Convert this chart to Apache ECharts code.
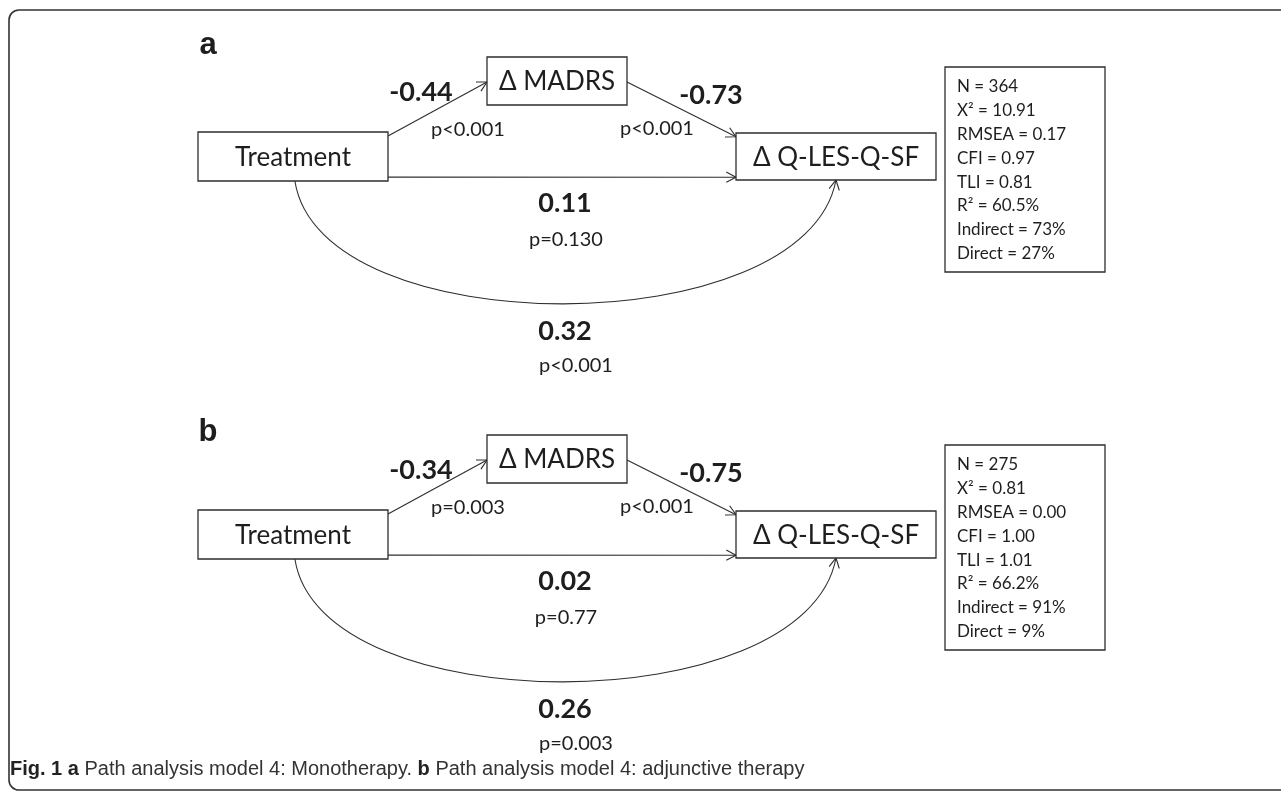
<!DOCTYPE html>
<html>
<head>
<meta charset="utf-8">
<script src="https://cdn.jsdelivr.net/npm/echarts@6/dist/echarts.min.js"></script>
<style>
  html, body { margin: 0; padding: 0; background: #fff; }
  #main { width: 1281px; height: 799px; }
</style>
</head>
<body>
<div id="main"></div>
<script>
// model variables and paths (from -> to)
var nodeNames = ['Treatment', 'Δ MADRS', 'Δ Q-LES-Q-SF']
var pathFrom = [0, 1, 0, 0]
var pathTo = [1, 2, 2, 2]
var panelNames = ['a', 'b']

// path coefficients and p values, one list per panel
var coefA = ['-0.44', '-0.73', '0.11', '0.32']
var pvalA = ['p<0.001', 'p<0.001', 'p=0.130', 'p<0.001']
var coefB = ['-0.34', '-0.75', '0.02', '0.26']
var pvalB = ['p=0.003', 'p<0.001', 'p=0.77', 'p=0.003']

// model fit
var fitNames = ['N', 'X²', 'RMSEA', 'CFI', 'TLI', 'R²', 'Indirect', 'Direct']
var fitA = ['364', '10.91', '0.17', '0.97', '0.81', '60.5%', '73%', '27%']
var fitB = ['275', '0.81', '0.00', '1.00', '1.01', '66.2%', '91%', '9%']

var coefs = [coefA, coefB]
var pvals = [pvalA, pvalB]
var fits = [fitA, fitB]

// ---- layout (diagram coordinates, panel a; panel b is shifted down) ----
var panelShift = [0, 378]
var boxes = [[198, 132, 190, 49], [487, 57, 140, 48], [736, 133, 200, 47]]
var fitBox = [945, 67, 160, 205]
// anchors: [box, fx, fy] for start and end of each path
var pathStart = [[0, 1, 0.08], [1, 1, 0.52], [0, 1, 0.92], [0, 0.51, 1]]
var pathEnd = [[1, 0, 0.52], [2, 0, 0.08], [2, 0, 0.94], [2, 0.5, 1]]
var coefPos = [[421, 92], [711, 95], [565, 203], [565, 331]]
var pvalPos = [[468, 130], [657, 129], [566, 240], [576, 366]]
var panelLabelPos = [[208, 45], [208, 432]]

var FONT = 'Lato, "Open Sans", sans-serif'
var CAPFONT = '20px "Liberation Sans Narrow", "Liberation Sans", sans-serif'
var LINE = '#2e2e2e'

function anchor (a, shift) {
  var b = boxes[a[0]]
  return [b[0] + b[2] * a[1], b[1] + b[3] * a[2] + shift]
}

function chevron (tip, from) {
  var dx = tip[0] - from[0]
  var dy = tip[1] - from[1]
  var len = Math.sqrt(dx * dx + dy * dy)
  dx /= len; dy /= len
  var L = 11
  var ang = 28 * Math.PI / 180
  var c = Math.cos(ang)
  var s = Math.sin(ang)
  var p1 = [tip[0] - L * (dx * c - dy * s), tip[1] - L * (dy * c + dx * s)]
  var p2 = [tip[0] - L * (dx * c + dy * s), tip[1] - L * (dy * c - dx * s)]
  return { type: 'polyline', shape: { points: [p1, tip, p2] }, style: { stroke: LINE, lineWidth: 1.1, fill: null } }
}

var nodeData = []
var pathData = []
var fitData = []
panelNames.forEach(function (p, pi) {
  nodeNames.forEach(function (n, ni) { nodeData.push([pi, ni]) })
  pathFrom.forEach(function (f, k) { pathData.push([pi, k]) })
  fitData.push([pi, 0])
})

var chart = echarts.init(document.getElementById('main'))
chart.setOption({
  animation: false,
  grid: { left: 0, right: 0, top: 0, bottom: 0 },
  xAxis: { type: 'value', min: 0, max: 1281, show: false },
  yAxis: { type: 'value', min: 0, max: 799, inverse: true, show: false },
  graphic: [
    {
      type: 'rect',
      shape: { x: 9, y: 10, width: 1300, height: 780, r: 10 },
      style: { fill: null, stroke: '#333', lineWidth: 1.6 },
      silent: true
    },
    {
      type: 'text',
      x: 10,
      y: 769,
      style: {
        text: '{b|Fig. 1 a }{n|Path analysis model 4: Monotherapy. }{b|b }{n|Path analysis model 4: adjunctive therapy}',
        verticalAlign: 'middle',
        rich: {
          b: { font: 'bold ' + CAPFONT, fill: '#222' },
          n: { font: CAPFONT, fill: '#333' }
        }
      }
    }
  ],
  series: [
    {
      // boxes for the variables
      type: 'custom',
      coordinateSystem: 'cartesian2d',
      data: nodeData,
      renderItem: function (params, api) {
        var pi = api.value(0)
        var ni = api.value(1)
        var b = boxes[ni]
        var sh = panelShift[pi]
        var p0 = api.coord([b[0], b[1] + sh])
        var p1 = api.coord([b[0] + b[2], b[1] + b[3] + sh])
        return {
          type: 'group',
          children: [
            { type: 'rect', shape: { x: p0[0], y: p0[1], width: p1[0] - p0[0], height: p1[1] - p0[1] }, style: { fill: '#fff', stroke: LINE, lineWidth: 1.3 } },
            { type: 'text', x: (p0[0] + p1[0]) / 2, y: (p0[1] + p1[1]) / 2 + 1, style: { text: nodeNames[ni], font: '26px ' + FONT, fill: '#1e1e1e', align: 'center', verticalAlign: 'middle' } }
          ]
        }
      }
    },
    {
      // paths with coefficients
      type: 'custom',
      coordinateSystem: 'cartesian2d',
      data: pathData,
      z: 1,
      renderItem: function (params, api) {
        var pi = api.value(0)
        var k = api.value(1)
        var sh = panelShift[pi]
        var s = api.coord(anchor(pathStart[k], sh))
        var e = api.coord(anchor(pathEnd[k], sh))
        var children = []
        if (k === 3) {
          var c1 = api.coord([anchor(pathStart[k], sh)[0] + 25, 345 + sh])
          var c2 = api.coord([anchor(pathEnd[k], sh)[0] - 31, 345 + sh])
          children.push({ type: 'bezierCurve', shape: { x1: s[0], y1: s[1], cpx1: c1[0], cpy1: c1[1], cpx2: c2[0], cpy2: c2[1], x2: e[0], y2: e[1] }, style: { stroke: LINE, lineWidth: 1.1, fill: null } })
          children.push(chevron(e, c2))
        } else {
          children.push({ type: 'line', shape: { x1: s[0], y1: s[1], x2: e[0], y2: e[1] }, style: { stroke: LINE, lineWidth: 1.1 } })
          children.push(chevron(e, s))
        }
        var cp = api.coord([coefPos[k][0], coefPos[k][1] + sh])
        var pp = api.coord([pvalPos[k][0], pvalPos[k][1] + sh])
        children.push({ type: 'text', x: cp[0], y: cp[1], style: { text: coefs[pi][k], font: 'bold 27px ' + FONT, fill: '#1e1e1e', align: 'center', verticalAlign: 'middle' } })
        children.push({ type: 'text', x: pp[0], y: pp[1], style: { text: pvals[pi][k], font: '20px ' + FONT, fill: '#1e1e1e', align: 'center', verticalAlign: 'middle' } })
        return { type: 'group', children: children }
      }
    },
    {
      // model fit box
      type: 'custom',
      coordinateSystem: 'cartesian2d',
      data: fitData,
      renderItem: function (params, api) {
        var pi = api.value(0)
        var sh = panelShift[pi]
        var p0 = api.coord([fitBox[0], fitBox[1] + sh])
        var p1 = api.coord([fitBox[0] + fitBox[2], fitBox[1] + fitBox[3] + sh])
        var lines = fitNames.map(function (n, i) { return n + ' = ' + fits[pi][i] })
        var children = [
          { type: 'rect', shape: { x: p0[0], y: p0[1], width: p1[0] - p0[0], height: p1[1] - p0[1] }, style: { fill: '#fff', stroke: LINE, lineWidth: 1.3 } }
        ]
        lines.forEach(function (t, i) {
          children.push({ type: 'text', x: p0[0] + 12, y: p0[1] + 20 + i * 23.8, style: { text: t, font: '17px ' + FONT, fill: '#1e1e1e', align: 'left', verticalAlign: 'middle' } })
        })
        return { type: 'group', children: children }
      }
    },
    {
      // panel letters
      type: 'custom',
      coordinateSystem: 'cartesian2d',
      data: panelNames.map(function (p, i) { return [i, 0] }),
      renderItem: function (params, api) {
        var pi = api.value(0)
        var p = api.coord(panelLabelPos[pi])
        return { type: 'text', x: p[0], y: p[1], style: { text: panelNames[pi], font: 'bold 31px "Liberation Sans", Arial, sans-serif', fill: '#1e1e1e', align: 'center', verticalAlign: 'middle' } }
      }
    }
  ]
})
</script>
</body>
</html>
